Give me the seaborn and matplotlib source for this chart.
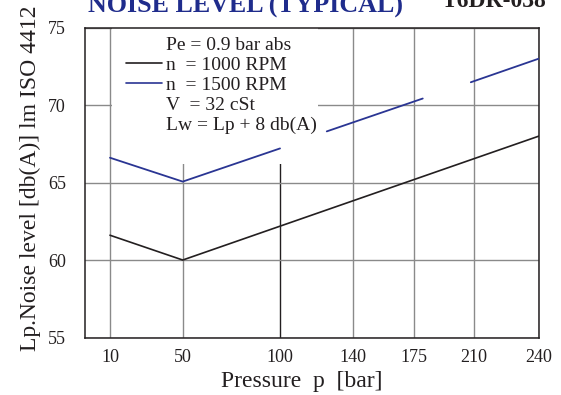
import numpy as np
import pandas as pd
import matplotlib
matplotlib.use("Agg")
import matplotlib.pyplot as plt
from matplotlib.lines import Line2D
from matplotlib.patches import Rectangle
import seaborn as sns

# ---------------- data ----------------
pressure_ticks = [10, 50, 100, 140, 175, 210, 240]
y_ticks = [55, 60, 65, 70, 75]

p_1000 = [10, 50, 240]
lp_1000 = [61.6, 60.0, 68.0]

p_1500 = [10, 50, 100, 125.5, 180.2, 208.1, 240]
lp_1500 = [66.6, 65.06, 67.2, 68.3, 70.42, 71.47, 73.0]
seg_1500 = [0, 0, 0, 1, 1, 2, 2]

legend_labels = ["Pe = 0.9 bar abs", "n  = 1000 RPM", "n  = 1500 RPM",
                 "V  = 32 cSt", "Lw = Lp + 8 db(A)"]

# ---------------- style ----------------
sns.set_theme(style="white")
plt.rcParams["font.family"] = ["Liberation Serif", "DejaVu Serif"]

BLUE = "#2a3593"
TITLE_BLUE = "#1f2c8c"
DARK = "#231f20"
GRID = "#8a8a8a"

# non-uniform pressure axis (positions of ticks on the original drawing)
knot_p = [-10, 10, 50, 100, 140, 175, 210, 240, 260]
knot_pos = [73.65, 110, 182.7, 280, 353.3, 413.7, 474, 539, 582.3]

def fwd(x):
    return np.interp(x, knot_p, knot_pos)

def inv(x):
    return np.interp(x, knot_pos, knot_p)

fig = plt.figure(figsize=(5.61, 3.95), dpi=100)
ax = fig.add_axes([0.151, 0.1455, 0.810, 0.7848])
ax.set_xscale("function", functions=(fwd, inv))

df1 = pd.DataFrame({"p": p_1000, "lp": lp_1000})
df2 = pd.DataFrame({"p": p_1500, "lp": lp_1500, "seg": seg_1500})

sns.lineplot(data=df1, x="p", y="lp", color=DARK, lw=1.2, ax=ax,
             estimator=None, sort=False, zorder=3)
sns.lineplot(data=df2, x="p", y="lp", units="seg", color=BLUE, lw=1.3, ax=ax,
             estimator=None, sort=False, zorder=3)

ax.set_xlim(-3.9, 240)
ax.set_ylim(55, 75)
ax.set_xticks(pressure_ticks)
ax.set_xticklabels([str(t) for t in pressure_ticks])
ax.set_yticks(y_ticks)
ax.tick_params(axis="both", length=0, labelsize=13, colors=DARK)
ax.tick_params(axis="y", pad=13.5)
ax.tick_params(axis="x", pad=8)

ax.grid(True, color=GRID, lw=1.0)
ax.set_axisbelow(True)
for i, gl in enumerate(ax.get_xgridlines()):
    if pressure_ticks[i] == 100:
        gl.set_color(DARK)

for s in ax.spines.values():
    s.set_color(DARK)
    s.set_linewidth(1.1)

# white panel behind the legend text
ax.add_patch(Rectangle((0.059, 0.559), 0.455, 0.438, transform=ax.transAxes,
                       facecolor="white", edgecolor="none", zorder=1))

handles = [Line2D([], [], color="none"),
           Line2D([], [], color=DARK, lw=1.2),
           Line2D([], [], color=BLUE, lw=1.2),
           Line2D([], [], color="none"),
           Line2D([], [], color="none")]
leg = ax.legend(handles, legend_labels, loc="upper left",
                bbox_to_anchor=(0.091, 0.97), frameon=False,
                fontsize=14, handlelength=1.85, handletextpad=0.2,
                labelspacing=0.11, borderpad=0, borderaxespad=0)
for t in leg.get_texts():
    t.set_color(DARK)

ax.set_xlabel("Pressure  p  [bar]", fontsize=17, color=DARK)
ax.xaxis.set_label_coords((301.7 - 84.7) / 454.3, -(381.5 - 337.5) / 310)
ax.xaxis.label.set_va("center")
ax.set_ylabel("Lp.Noise level [db(A)] lm ISO 4412", fontsize=17, color=DARK)
ax.yaxis.set_label_coords(-0.12, 0.515)
ax.yaxis.label.set_va("center")

fig.text(88 / 561, 1 - 12.5 / 395, "NOISE LEVEL (TYPICAL)", fontsize=18.7,
         fontweight="bold", color=TITLE_BLUE, va="baseline", ha="left")
fig.text(441.6 / 561, 1 - 7 / 395, "T6DR-038", fontsize=17,
         fontweight="bold", color=DARK, va="baseline", ha="left")

fig.savefig("out.png", dpi=100)
